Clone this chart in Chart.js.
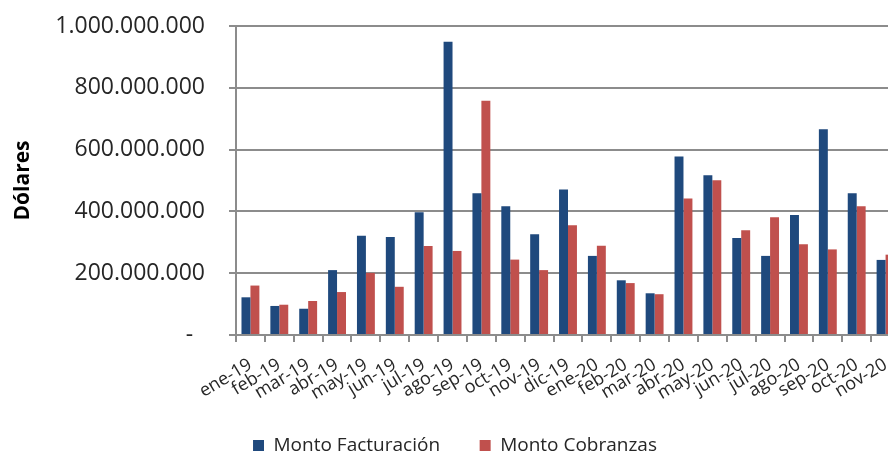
<!DOCTYPE html>
<html>
<head>
<meta charset="utf-8">
<script src="https://cdn.jsdelivr.net/npm/chart.js@4"></script>
<style>
  html, body { margin: 0; padding: 0; background: #fff; overflow: hidden; }
  #wrap { width: 900px; height: 465px; }
</style>
</head>
<body>
<div id="wrap"><canvas id="cobrosChart" width="900" height="465"></canvas></div>
<script>
const meses = [
  "ene-19", "feb-19", "mar-19", "abr-19", "may-19", "jun-19", "jul-19", "ago-19",
  "sep-19", "oct-19", "nov-19", "dic-19", "ene-20", "feb-20", "mar-20", "abr-20",
  "may-20", "jun-20", "jul-20", "ago-20", "sep-20", "oct-20", "nov-20"
];

// millones de dolares
const facturacion = [
  122, 94, 85, 210, 321, 317, 397, 949, 459, 417, 326, 471,
  256, 177, 135, 578, 517, 314, 256, 388, 666, 459, 243
];
const cobranzas = [
  160, 98, 110, 139, 201, 156, 288, 272, 758, 244, 210, 355,
  289, 168, 132, 442, 501, 339, 381, 294, 277, 417, 260
];

const yTicks = [0, 200000000, 400000000, 600000000, 800000000, 1000000000];

function puntos(n) {
  return String(n).replace(/\B(?=(\d{3})+(?!\d))/g, ".");
}

const gris = "#8c8c8c";
const texto = "#262626";

const ctx = document.getElementById("cobrosChart").getContext("2d");

new Chart(ctx, {
  type: "bar",
  data: {
    labels: meses,
    datasets: [
      {
        label: "Monto Facturación",
        data: facturacion.map((v) => v * 1000000),
        backgroundColor: "#1F497D",
        categoryPercentage: 0.62,
        barPercentage: 1.0,
      },
      {
        label: "Monto Cobranzas",
        data: cobranzas.map((v) => v * 1000000),
        backgroundColor: "#C0504D",
        categoryPercentage: 0.62,
        barPercentage: 1.0,
      },
    ],
  },
  options: {
    responsive: false,
    animation: false,
    layout: {
      padding: { left: 10, right: 0, top: 26, bottom: 0 },
    },
    plugins: {
      legend: {
        display: true,
        position: "bottom",
        labels: {
          boxWidth: 11,
          boxHeight: 11,
          padding: 10,
          color: texto,
          font: { family: "Open Sans", size: 19 },
          generateLabels: function (chart) {
            const items = Chart.defaults.plugins.legend.labels.generateLabels(chart);
            // separacion entre entradas como en el original
            items[0].text = items[0].text + "      ";
            return items;
          },
        },
      },
      tooltip: { enabled: false },
    },
    scales: {
      x: {
        offset: true,
        grid: {
          offset: true,
          drawOnChartArea: false,
          drawTicks: true,
          tickLength: 7,
          color: gris,
          lineWidth: 2,
        },
        border: { color: gris, width: 2 },
        ticks: {
          autoSkip: false,
          minRotation: 31,
          maxRotation: 31,
          padding: 12,
          color: texto,
          font: { family: "Open Sans", size: 18 },
        },
        afterFit: function (scale) {
          scale.height = 91;
          scale.paddingLeft = 0;
          scale.paddingRight = 0;
        },
      },
      y: {
        min: 0,
        max: 1000000000,
        afterBuildTicks: function (scale) {
          scale.ticks = yTicks.map((v) => ({ value: v }));
        },
        grid: {
          color: gris,
          lineWidth: 2,
          drawTicks: true,
          tickLength: 7,
        },
        border: { color: gris, width: 2 },
        ticks: {
          padding: 24,
          color: texto,
          font: { family: "Open Sans", size: 23 },
          callback: function (value) {
            return value === 0 ? "-  " : puntos(value);
          },
        },
        title: {
          display: true,
          text: "Dólares",
          color: "#000",
          padding: { top: 0, bottom: 0 },
          font: { family: "Open Sans", size: 21, weight: "bold" },
        },
        afterFit: function (scale) {
          scale.width = 226;
          scale.paddingTop = 12;
          scale.paddingBottom = 12;
        },
      },
    },
  },
});
</script>
</body>
</html>
